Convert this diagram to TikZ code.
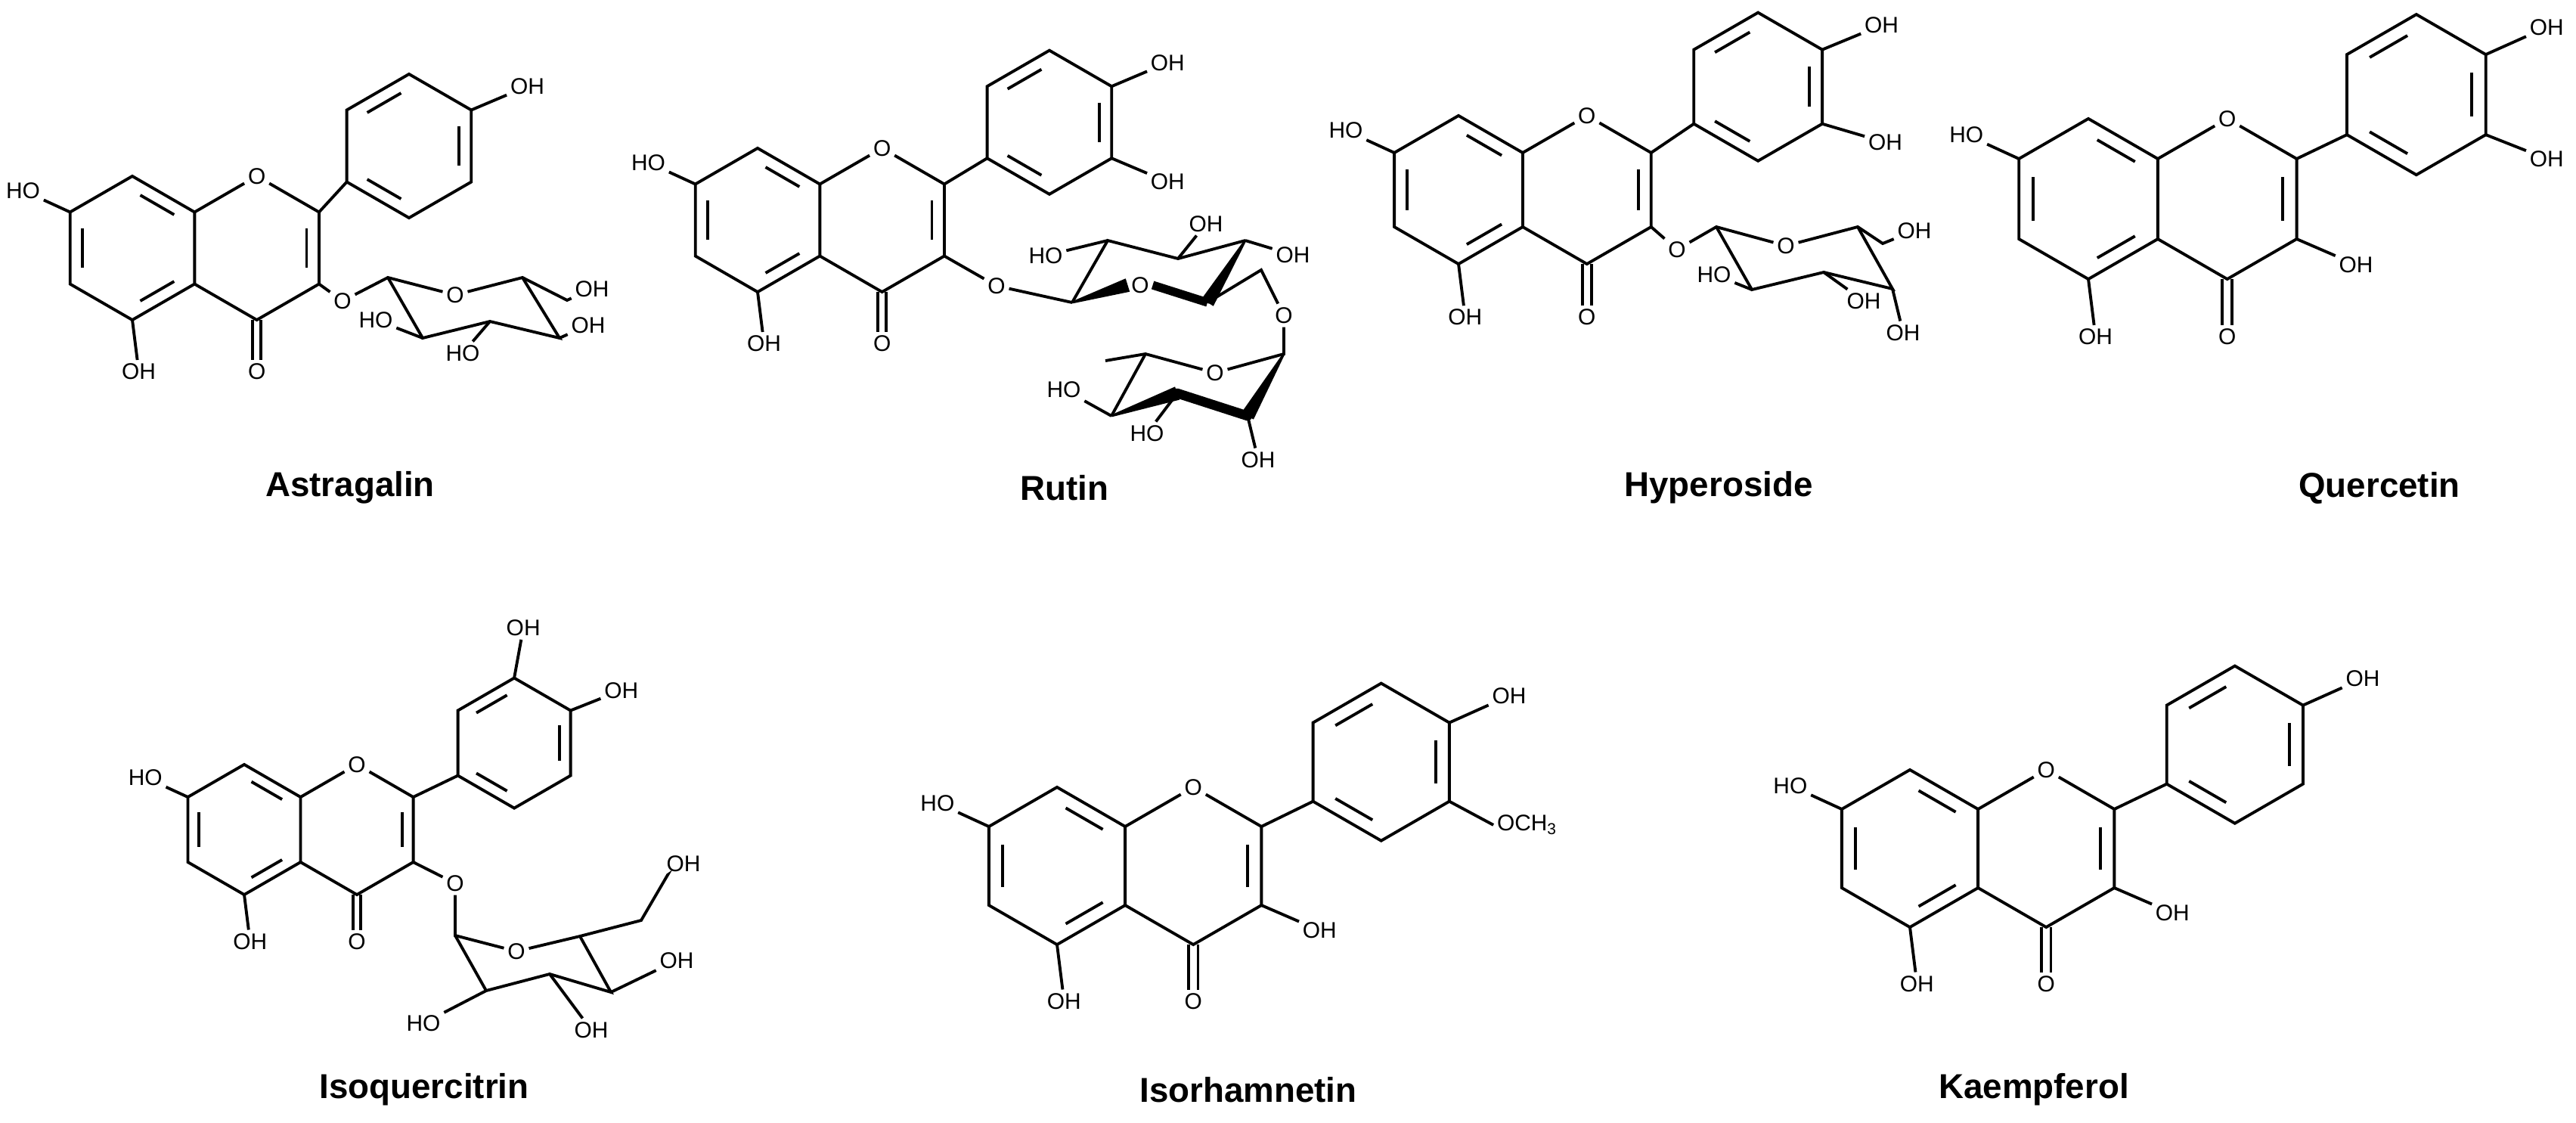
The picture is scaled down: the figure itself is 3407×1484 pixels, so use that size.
\documentclass[tikz,border=0pt]{standalone}
\usepackage{fontspec}
\setmainfont{Liberation Sans}
\usetikzlibrary{calc}
\tikzset{
  bond/.style={line width=1.1pt, line join=miter, line cap=butt},
  lab/.style={font=\fontsize{8.5}{10}\selectfont, inner sep=1.2pt},
  title/.style={font=\fontsize{13}{15}\selectfont\bfseries}
}
\newcommand\dbl[3]{\draw[bond] ($(#1)!0.16!(#2)!0.2!(#3)$) -- ($(#2)!0.16!(#1)!0.2!(#3)$);}
\newcommand\wdg[2]{\fill ($(#1)!0.4pt!90:(#2)$) -- ($(#2)!2.6pt!-90:(#1)$) -- ($(#2)!2.6pt!90:(#1)$) -- ($(#1)!0.4pt!-90:(#2)$) -- cycle;}
% flavone skeleton in local units (A ring centre at origin, y up)
\newcommand\flav[3]{%
 \coordinate (#1A) at (0,0);
 \coordinate (#1a1) at (0.866,0.5); \coordinate (#1a2) at (0,1);
 \coordinate (#1a3) at (-0.866,0.5); \coordinate (#1a4) at (-0.866,-0.5);
 \coordinate (#1a5) at (0,-1); \coordinate (#1a6) at (0.866,-0.5);
 \coordinate (#1Cc) at (1.732,0);
 \node[lab] (#1O1) at (1.732,1) {O};
 \coordinate (#1c2) at (2.598,0.5); \coordinate (#1c3) at (2.598,-0.5);
 \coordinate (#1c4) at (1.732,-1);
 \node[lab] (#1O4) at (1.732,-1.72) {O};
 \node[lab] (#1O5) at (0.09,-1.72) {OH};
 \node[lab] (#1O7) at (-1.52,0.8) {HO};
 \coordinate (#1B) at (#2,#3);
 \coordinate (#1b1) at ($(#1B)+(-0.866,-0.5)$); \coordinate (#1b2) at ($(#1B)+(-0.866,0.5)$);
 \coordinate (#1b3) at ($(#1B)+(0,1)$); \coordinate (#1b4) at ($(#1B)+(0.866,0.5)$);
 \coordinate (#1b5) at ($(#1B)+(0.866,-0.5)$); \coordinate (#1b6) at ($(#1B)+(0,-1)$);
 \draw[bond] (#1a1)--(#1a2)--(#1a3)--(#1a4)--(#1a5)--(#1a6)--cycle;
 \draw[bond] (#1a1)--(#1O1); \draw[bond] (#1O1)--(#1c2)--(#1c3)--(#1c4)--(#1a6);
 \draw[bond] (#1a5)--(#1O5); \draw[bond] (#1a3)--(#1O7);
 \draw[bond] ($(#1c4)+(-0.06,0)$) -- ($(#1O4.north)+(-0.06,0)$);
 \draw[bond] ($(#1c4)+(0.06,0)$) -- ($(#1O4.north)+(0.06,0)$);
 \dbl{#1a2}{#1a1}{#1A}\dbl{#1a3}{#1a4}{#1A}\dbl{#1a5}{#1a6}{#1A}\dbl{#1c2}{#1c3}{#1Cc}
 \draw[bond] (#1b1)--(#1b2)--(#1b3)--(#1b4)--(#1b5)--(#1b6)--cycle;
 \draw[bond] (#1c2)--(#1b1);
 \dbl{#1b2}{#1b3}{#1B}\dbl{#1b4}{#1b5}{#1B}\dbl{#1b6}{#1b1}{#1B}
}
\newcommand\subst[4]{\node[lab] (#1) at ($(#2)+#3$) {#4}; \draw[bond] (#2)--(#1);}
\begin{document}
\begin{tikzpicture}[x=0.01cm,y=-0.01cm]
\useasboundingbox (0,0) rectangle (3407,1484);
% ---------- Astragalin
\begin{scope}[shift={(175,328)},x=0.95cm,y=0.95cm]
 \flav{as}{3.85}{1.42}
 \subst{as4p}{asb4}{(0.78,0.33)}{OH}
\end{scope}
\node[lab] (asO3) at (453,398) {O};
\coordinate (as1) at (513,367); \node[lab] (asOr) at (602,390) {O};
\coordinate (as5) at (691,367); \coordinate (as6) at (750,397);
\coordinate (as4) at (740,447); \coordinate (as3) at (648,425); \coordinate (as2) at (559,447);
\node[lab] (as6o) at (783,382) {OH}; \node[lab] (as4o) at (778,430) {OH};
\node[lab] (as3o) at (612,467) {HO}; \node[lab] (as2o) at (497,423) {HO};
\draw[bond] (asc3)--(asO3); \draw[bond] (asO3)--(as1)--(asOr); \draw[bond] (asOr)--(as5)--(as6)--(as6o);
\draw[bond] (as1)--(as2)--(as3)--(as4)--(as5);
\draw[bond] (as4)--(as4o); \draw[bond] (as3)--(as3o); \draw[bond] (as2)--(as2o);
\node[title] (t1) at (463,645) {Astragalin};
% ---------- Rutin
\begin{scope}[shift={(1002,291)},x=0.95cm,y=0.95cm]
 \flav{ru}{4.06}{1.36}
 \subst{ru4p}{rub4}{(0.78,0.33)}{OH}
 \subst{ru3p}{rub5}{(0.78,-0.33)}{OH}
\end{scope}
\node[lab] (ruO3) at (1318,378) {O};
\coordinate (ru1) at (1418,400); \node[lab] (ruOr) at (1508,377) {O};
\coordinate (ru5) at (1597,400); \coordinate (ru4) at (1647,318);
\coordinate (ru3) at (1558,342); \coordinate (ru2) at (1465,318);
\coordinate (ru6) at (1668,357); \node[lab] (ruO6) at (1698,417) {O};
\node[lab] (ru2o) at (1383,338) {HO}; \node[lab] (ru3o) at (1595,296) {OH}; \node[lab] (ru4o) at (1710,337) {OH};
\draw[bond] (ruc3)--(ruO3); \draw[bond] (ruO3)--(ru1);
\wdg{ru1}{ruOr.west}
\draw[line width=3.2pt] (ruOr.east)--(ru5);
\wdg{ru4}{ru5}
\draw[bond] (ru1)--(ru2)--(ru3)--(ru4);
\draw[bond] (ru2)--(ru2o); \draw[bond] (ru3)--(ru3o); \draw[bond] (ru4)--(ru4o);
\draw[bond] (ru5)--(ru6)--(ruO6);
% rhamnose
\coordinate (rh1) at (1698,468); \node[lab] (rhOr) at (1607,493) {O};
\coordinate (rh5) at (1515,468); \coordinate (rhm) at (1462,477);
\coordinate (rh4) at (1470,550); \coordinate (rh3) at (1557,520); \coordinate (rh2) at (1650,550);
\node[lab] (rh4o) at (1407,515) {HO}; \node[lab] (rh3o) at (1517,573) {HO}; \node[lab] (rh2o) at (1664,608) {OH};
\draw[bond] (ruO6)--(rh1)--(rhOr); \draw[bond] (rhOr)--(rh5)--(rhm); \draw[bond] (rh5)--(rh4);
\wdg{rh4}{rh3}
\draw[line width=3.6pt,line cap=round] (rh3)--(rh2);
\wdg{rh1}{rh2}
\draw[bond] (rh4)--(rh4o); \draw[bond] (rh3)--(rh3o); \draw[bond] (rh2)--(rh2o);
\node[title] (t2) at (1408,645) {Rutin};
% ---------- Hyperoside
\begin{scope}[shift={(1929,251)},x=0.98cm,y=0.98cm]
 \flav{hy}{4.04}{1.39}
 \subst{hy4p}{hyb4}{(0.8,0.33)}{OH}
 \subst{hy3p}{hyb5}{(0.85,-0.25)}{OH}
\end{scope}
\node[lab] (hyO3) at (2218,330) {O};
\coordinate (hy1) at (2270,300); \node[lab] (hyOr) at (2362,325) {O};
\coordinate (hy5) at (2457,300); \coordinate (hy6) at (2490,322);
\coordinate (hy4) at (2503,382); \coordinate (hy3) at (2412,360); \coordinate (hy2) at (2317,383);
\node[lab] (hy6o) at (2532,305) {OH}; \node[lab] (hy4o) at (2517,440) {OH};
\node[lab] (hy3o) at (2465,398) {OH}; \node[lab] (hy2o) at (2267,363) {HO};
\draw[bond] (hyc3)--(hyO3); \draw[bond] (hyO3)--(hy1)--(hyOr); \draw[bond] (hyOr)--(hy5)--(hy6)--(hy6o);
\draw[bond] (hy1)--(hy2)--(hy3)--(hy4)--(hy5);
\draw[bond] (hy4)--(hy4o); \draw[bond] (hy3)--(hy3o); \draw[bond] (hy2)--(hy2o);
\node[title] (t3) at (2273,645) {Hyperoside};
% ---------- Quercetin
\begin{scope}[shift={(2762,263)},x=1.06cm,y=1.06cm]
 \flav{qu}{4.09}{1.30}
 \subst{qu4p}{qub4}{(0.76,0.34)}{OH}
 \subst{qu3p}{qub5}{(0.76,-0.3)}{OH}
 \subst{qu3o}{quc3}{(0.74,-0.32)}{OH}
\end{scope}
\node[title] (t4) at (3147,645) {Quercetin};
% ---------- Isoquercitrin
\begin{scope}[shift={(323,1097)},x=0.86cm,y=0.86cm]
 \flav{iq}{4.15}{1.33}
 \subst{iq3p}{iqb3}{(0.14,0.77)}{OH}
 \subst{iq4p}{iqb4}{(0.78,0.31)}{OH}
\end{scope}
\node[lab] (iqO3) at (602,1168) {O};
\coordinate (iq1) at (602,1237); \node[lab] (iqOr) at (683,1258) {O};
\coordinate (iq5) at (767,1238); \coordinate (iq6) at (848,1217); \coordinate (iq6b) at (883,1157);
\coordinate (iq4) at (808,1312); \coordinate (iq3) at (727,1288); \coordinate (iq2) at (643,1310);
\node[lab] (iq6o) at (904,1142) {OH}; \node[lab] (iq4o) at (895,1270) {OH};
\node[lab] (iq3o) at (782,1362) {OH}; \node[lab] (iq2o) at (560,1353) {HO};
\draw[bond] (iqc3)--(iqO3); \draw[bond] (iqO3)--(iq1)--(iqOr); \draw[bond] (iqOr)--(iq5)--(iq6)--(iq6b)--(iq6o);
\draw[bond] (iq1)--(iq2)--(iq3)--(iq4)--(iq5);
\draw[bond] (iq4)--(iq4o); \draw[bond] (iq3)--(iq3o); \draw[bond] (iq2)--(iq2o);
\node[title] (t5) at (561,1441) {Isoquercitrin};
% ---------- Isorhamnetin
\begin{scope}[shift={(1398,1145)},x=1.04cm,y=1.04cm]
 \flav{ir}{4.12}{1.32}
 \subst{ir4p}{irb4}{(0.76,0.34)}{OH}
 \node[lab,anchor=west] (irme) at ($(irb5)+(0.56,-0.3)$) {OCH\textsubscript{3}};
 \draw[bond] (irb5)--(irme.west);
 \subst{ir3o}{irc3}{(0.74,-0.32)}{OH}
\end{scope}
\node[title] (t6) at (1651,1441) {Isorhamnetin};
% ---------- Kaempferol
\begin{scope}[shift={(2526,1122)},x=1.04cm,y=1.04cm]
 \flav{ka}{4.13}{1.32}
 \subst{ka4p}{kab4}{(0.76,0.34)}{OH}
 \subst{ka3o}{kac3}{(0.74,-0.32)}{OH}
\end{scope}
\node[title] (t7) at (2690,1441) {Kaempferol};
\end{tikzpicture}
\end{document}
